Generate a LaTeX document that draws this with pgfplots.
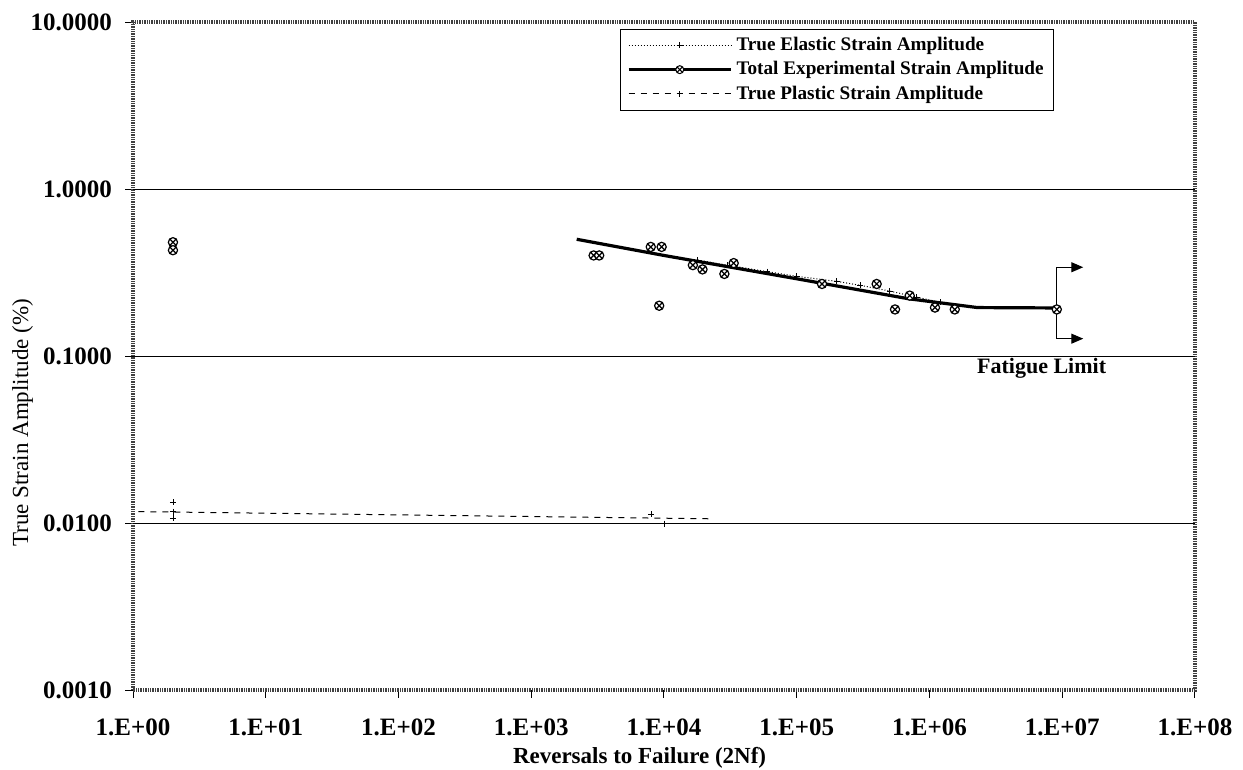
\documentclass[border=0pt]{standalone}
\usepackage{fontspec}
\setmainfont{Liberation Serif}
\usepackage{pgfplots}
\pgfplotsset{compat=1.18}
\usetikzlibrary{arrows.meta,plotmarks}

\begin{document}
\begin{tikzpicture}
\useasboundingbox (0,0) rectangle (621.5pt,385pt);
\begin{axis}[
  at={(66.5pt,40pt)}, anchor=south west,
  scale only axis, width=531pt, height=334pt,
  xmode=log, ymode=log,
  xmin=1, xmax=1e8, ymin=0.001, ymax=10,
  log basis x=10, log basis y=10,
  xtick={1,10,100,1000,10000,100000,1000000,10000000,100000000},
  xticklabels={1.E+00,1.E+01,1.E+02,1.E+03,1.E+04,1.E+05,1.E+06,1.E+07,1.E+08},
  ytick={0.001,0.01,0.1,1,10},
  yticklabels={0.0010,0.0100,0.1000,1.0000,10.0000},
  minor xtick={}, minor ytick={},
  extra y ticks={0.01,0.1,1},
  extra y tick labels={},
  extra y tick style={ymajorgrids=true, major tick length=0pt},
  grid style={black, line width=0.45pt},
  tick align=outside, major tick length=4pt,
  tick style={black, line width=0.5pt},
  xtick pos=bottom, ytick pos=left,
  tick label style={font=\bfseries\fontsize{12.5}{14}\selectfont},
  xticklabel style={yshift=-7pt},
  yticklabel style={xshift=-3pt},
  axis line style={draw=gray!50!black, line width=1.6pt, dash pattern=on 0.7pt off 0.5pt},
  xlabel={\bfseries Reversals to Failure (2Nf)},
  ylabel={True Strain Amplitude (\%)},
  label style={font=\fontsize{11.5}{13}\selectfont},
  xlabel style={at={(axis description cs:0.477,0)}, anchor=center, yshift=-34pt},
  ylabel style={at={(axis description cs:-0.104,0.40)}, anchor=center},
  legend image code/.code={\draw[mark repeat=2,mark phase=2,#1] plot coordinates {(0cm,0cm) (0.9cm,0cm) (1.8cm,0cm)};},
  legend style={at={(0.459,0.99)}, anchor=north west, draw=black, line width=0.5pt,
    fill=white, font=\bfseries\fontsize{9.6}{11}\selectfont, row sep=0pt,
    inner xsep=3pt, inner ysep=2pt},
  legend cell align=left,
]
\addlegendimage{black, densely dotted, line width=0.5pt, mark=+, mark size=1.5pt, mark options={solid}}
\addlegendentry{True Elastic Strain Amplitude}
\addlegendimage{black, line width=1.6pt, mark=otimes*, mark size=2pt, mark options={solid, fill=white, draw=black, line width=0.5pt}}
\addlegendentry{Total Experimental Strain Amplitude}
\addlegendimage{black, dashed, line width=0.5pt, mark=+, mark size=1.5pt, mark options={solid}}
\addlegendentry{True Plastic Strain Amplitude}

% total strain fit line
\addplot[black, line width=1.6pt, forget plot] coordinates {
  (2200,0.50) (10000,0.40) (100000,0.29) (700000,0.22) (2300000,0.195) (9000000,0.194)
};
% elastic line (overlapping total line)
\addplot[black, densely dotted, line width=0.5pt, mark=+, mark size=1.5pt, mark options={solid}, forget plot] coordinates {
  (18000,0.375) (30000,0.35) (60000,0.32) (100000,0.30) (200000,0.28)
  (300000,0.265) (500000,0.245) (800000,0.225) (1200000,0.21)
};
% experimental points
\addplot[only marks, mark=otimes*, mark size=2.3pt, draw=black, mark options={fill=white, draw=black, line width=0.6pt}, forget plot] coordinates {
  (2,0.48) (2,0.43) (2950,0.40) (3250,0.40) (7950,0.45) (9600,0.45) (9200,0.20)
  (16500,0.35) (19500,0.33) (28500,0.31) (33500,0.36) (155000,0.27) (400000,0.27)
  (550000,0.19) (710000,0.23) (1100000,0.195) (1550000,0.19) (9100000,0.19)
};
% plastic line
\addplot[black, dashed, line width=0.5pt, forget plot] coordinates {
  (1.1,0.0117) (22000,0.0106)
};
\addplot[only marks, mark=+, mark size=1.5pt, black, forget plot] coordinates {
  (2,0.0133) (2,0.0117) (2,0.0107) (8000,0.0113) (10000,0.0099)
};
% fatigue limit annotation
\draw[black, line width=0.6pt] (axis cs:9000000,0.127) -- (axis cs:9000000,0.34);
\draw[black, line width=0.6pt, -{Triangle[length=6pt,width=5pt]}] (axis cs:9000000,0.34) -- (axis cs:14400000,0.34);
\draw[black, line width=0.6pt, -{Triangle[length=6pt,width=5pt]}] (axis cs:9000000,0.127) -- (axis cs:14400000,0.127);
\node[font=\bfseries\fontsize{11}{12}\selectfont] at (axis cs:7000000,0.084) {Fatigue Limit};
\end{axis}
\end{tikzpicture}
\end{document}
